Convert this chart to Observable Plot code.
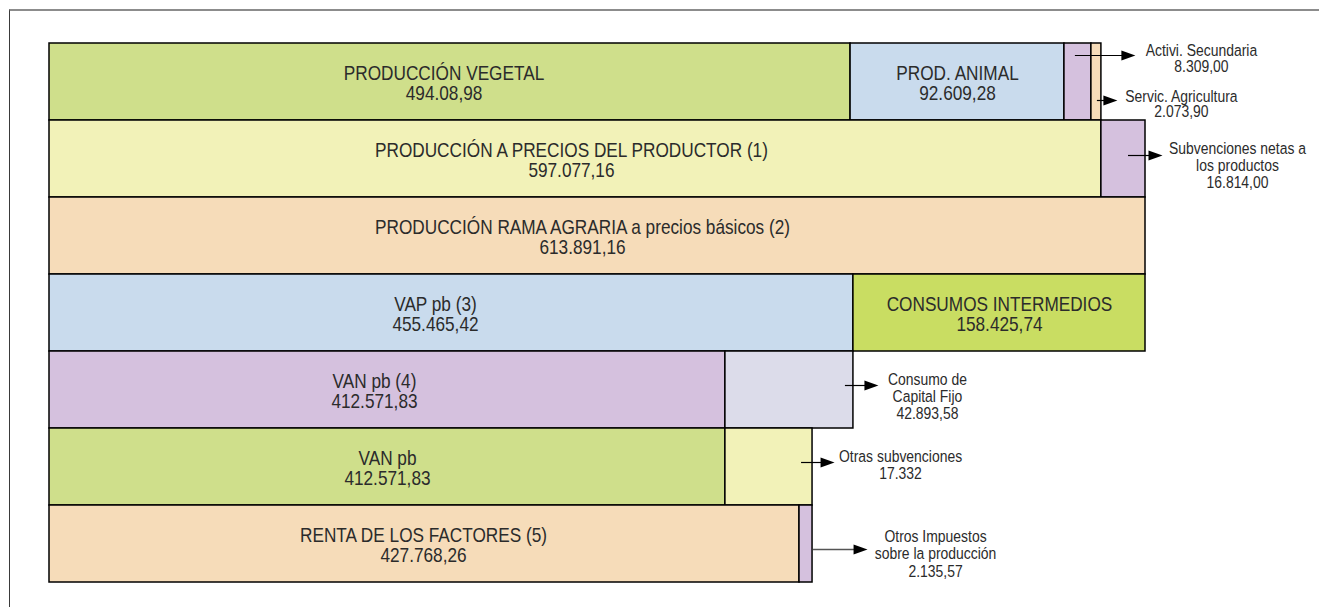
<!DOCTYPE html>
<html>
<head>
<meta charset="utf-8">
<script src="https://cdn.jsdelivr.net/npm/d3@7"></script>
<script src="https://cdn.jsdelivr.net/npm/@observablehq/plot@0.6"></script>
<style>
  html, body { margin: 0; padding: 0; background: #fff; }
  #wrap { position: relative; width: 1319px; height: 607px; overflow: hidden; }
  #frame { position: absolute; left: 9px; top: 9px; right: -2px; bottom: -2px;
           border-top: 2px solid #8c8c8c; border-left: 1px solid #3a3a3a; }
  #chart { position: absolute; left: 0; top: 0; }
</style>
</head>
<body>
<div id="wrap"><div id="frame"></div><div id="chart"></div></div>
<script>
// ---- data ----
const rowIds = [1, 2, 3, 4, 5, 6, 7];
const segRow = [1, 1, 1, 1, 2, 2, 3, 4, 4, 5, 5, 6, 6, 7, 7];
const segName = [
  "PRODUCCIÓN VEGETAL", "PROD. ANIMAL", "Activi. Secundaria", "Servic. Agricultura",
  "PRODUCCIÓN A PRECIOS DEL PRODUCTOR (1)", "Subvenciones netas a\nlos productos",
  "PRODUCCIÓN RAMA AGRARIA a precios básicos (2)",
  "VAP pb (3)", "CONSUMOS INTERMEDIOS",
  "VAN pb (4)", "Consumo de\nCapital Fijo",
  "VAN pb", "Otras subvenciones",
  "RENTA DE LOS FACTORES (5)", "Otros Impuestos\nsobre la producción"
];
const segValueText = [
  "494.08,98", "92.609,28", "8.309,00", "2.073,90",
  "597.077,16", "16.814,00",
  "613.891,16",
  "455.465,42", "158.425,74",
  "412.571,83", "42.893,58",
  "412.571,83", "17.332",
  "427.768,26", "2.135,57"
];
// drawn (schematic) bar lengths as they appear in the picture, same unit for all rows
const segDrawnLength = [448.7, 119.8, 15.1, 5.6, 589.2, 24.7, 613.9, 450.3, 163.6, 378.6, 71.7, 378.6, 48.8, 420.1, 7.3];
const segTone = ["green", "blue", "purple", "peach", "yellow", "purple", "peach", "blue", "lime", "purple", "lavender", "green", "yellow", "peach", "purple"];
const segInside = [true, true, false, false, true, false, true, true, true, true, false, true, false, true, false];

// ---- styles ----
const toneNames = ["green", "blue", "purple", "peach", "yellow", "lime", "lavender"];
const toneColors = ["#cfdf8b", "#c9dbed", "#d5c1de", "#f6dcb9", "#f2f2b8", "#c9dd62", "#dcdcea"];
const W = 1319, H = 607, mL = 49, mR = 174, mT = 43, mB = 25;
const narrow = 0.82; // horizontal compression to imitate a condensed sans
const total = d3.max(rowIds, r => d3.sum(segDrawnLength.filter((_, i) => segRow[i] === r)));
const pxPerUnit = (W - mL - mR) / total;
const u = px => px / pxPerUnit;

// build the table
const acc = new Map();
const table = segRow.map((row, i) => {
  const x1 = acc.get(row) || 0;
  const x2 = x1 + segDrawnLength[i];
  acc.set(row, x2);
  return {i, row, x1, x2, name: segName[i], value: segValueText[i], tone: segTone[i], inside: segInside[i]};
});

// inside-label horizontal nudges (px)
const insideDx = {0: -6, 1: 0, 4: -4, 6: -15, 7: -16, 8: 0, 9: -13, 11: 0, 13: -1};

// annotation layout (px offsets from segment end / row centre)
const annLayout = {
  2: {a: -16, b: 44, ay: -26.5, tx: 110, ty: -22.9, lh: 0.95},
  3: {a: -4, b: 16, ay: 18.5, tx: 80, ty: 22.6, lh: 0.9},
  5: {a: -17, b: 17, ay: -3.5, tx: 92, ty: 6.1, lh: 1},
  10: {a: -8, b: 25, ay: -4.5, tx: 74, ty: 6.1, lh: 1},
  12: {a: -11, b: 22, ay: -4.5, tx: 88, ty: -2.4, lh: 1},
  14: {a: 1, b: 55, ay: 5.5, tx: 123, ty: 9.4, lh: 1.03, stroke: "#555", sw: 1.6}
};

const arrowHead = {
  draw(context) {
    context.moveTo(0, 0);
    context.lineTo(-14, -5);
    context.lineTo(-14, 5);
    context.closePath();
  }
};

const textFill = "#2b2b2b";
const marks = [
  Plot.barX(table, {y: "row", x1: "x1", x2: "x2", fill: "tone", stroke: "#000", strokeWidth: 1.5})
];
for (const d of table.filter(d => d.inside)) {
  marks.push(Plot.text([d], {
    x: e => (e.x1 + e.x2) / 2, y: "row", text: e => e.name + "\n" + e.value,
    fontSize: 21, lineHeight: 0.95, fill: textFill, dy: 1.6, dx: insideDx[d.i] || 0
  }));
}
for (const [k, L] of Object.entries(annLayout)) {
  const d = table[+k];
  marks.push(
    Plot.ruleY([d], {y: "row", x1: e => e.x2 + u(L.a), x2: e => e.x2 + u(L.b - 8), dy: L.ay,
      stroke: L.stroke || "#000", strokeWidth: L.sw || 1.2}),
    Plot.dot([d], {x: e => e.x2 + u(L.b), y: "row", dy: L.ay, symbol: arrowHead, r: 5, fill: "#000", stroke: "none"}),
    Plot.text([d], {x: "x2", y: "row", dx: L.tx, dy: L.ty, text: e => e.name + "\n" + e.value,
      fontSize: 17, lineHeight: L.lh, fill: textFill, textAnchor: "middle"})
  );
}

const chart = Plot.plot({
  width: W, height: H,
  marginLeft: mL, marginRight: mR, marginTop: mT, marginBottom: mB,
  x: {domain: [0, total], axis: null},
  y: {domain: rowIds, axis: null, padding: 0},
  color: {domain: toneNames, range: toneColors},
  style: {fontFamily: "'Liberation Sans', Arial, sans-serif", background: "transparent", overflow: "visible"},
  marks
});
// condense the text horizontally around each text anchor
chart.querySelectorAll("text").forEach(t => {
  const tr = t.getAttribute("transform") || "";
  t.setAttribute("transform", tr + ` scale(${narrow},1)`);
});
document.getElementById("chart").appendChild(chart);
</script>
</body>
</html>
